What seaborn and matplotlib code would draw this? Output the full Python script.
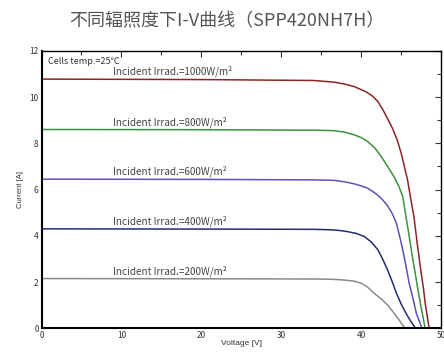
import matplotlib
matplotlib.use("Agg")
import matplotlib.pyplot as plt
from matplotlib.ticker import MultipleLocator
import seaborn as sns
import pandas as pd

# I-V curves (voltage V, current A)
irradiances = ["1000", "800", "600", "400", "200"]
line_colors = ["#8b2525", "#3f8f3f", "#5d52b5", "#232d70", "#8a8a8a"]

v_1000 = [0, 20, 34.0, 36.6, 38.0, 39.1, 40.5, 41.4, 42.1, 42.8, 43.4, 43.9,
          44.5, 45.0, 45.4, 45.8, 46.2, 46.6, 47.0, 47.5, 47.8, 48.0, 48.5]
i_1000 = [10.78, 10.76, 10.72, 10.65, 10.56, 10.46, 10.25, 10.05, 9.8, 9.4, 9.0,
          8.66, 8.15, 7.58, 7.0, 6.42, 5.6, 4.83, 3.7, 2.39, 1.7, 1.1, 0.0]

v_800 = [0, 20, 34.0, 36.6, 38.0, 39.1, 40.0, 40.8, 41.7, 42.5, 43.3, 44.1,
         44.7, 45.2, 45.6, 46.0, 46.4, 46.8, 47.1, 47.5, 48.0]
i_800 = [8.6, 8.59, 8.57, 8.55, 8.48, 8.37, 8.25, 8.08, 7.8, 7.43, 7.0, 6.56,
         6.15, 5.7, 4.83, 4.0, 3.1, 2.3, 1.66, 0.9, 0.0]

v_600 = [0, 20, 34.0, 36.6, 38.0, 39.1, 40.0, 40.8, 41.6, 42.2, 42.7, 43.3,
         43.9, 44.4, 44.8, 45.2, 45.6, 46.0, 46.5, 46.9, 47.6]
i_600 = [6.45, 6.44, 6.42, 6.4, 6.33, 6.25, 6.16, 6.06, 5.88, 5.72, 5.55, 5.3,
         4.95, 4.55, 4.0, 3.39, 2.7, 1.95, 1.25, 0.65, 0.0]

v_400 = [0, 20, 34.0, 36.2, 37.3, 38.3, 39.4, 40.4, 41.3, 42.1, 42.7, 43.3,
         43.9, 44.4, 45.0, 45.6, 46.2, 46.8]
i_400 = [4.3, 4.29, 4.28, 4.26, 4.23, 4.18, 4.1, 3.97, 3.72, 3.39, 2.98, 2.52,
         2.0, 1.52, 1.05, 0.65, 0.3, 0.0]

v_200 = [0, 20, 34.0, 36.2, 37.3, 38.3, 39.2, 40.0, 40.8, 41.6, 42.5, 43.3,
         44.0, 44.6, 45.1, 45.5]
i_200 = [2.15, 2.14, 2.13, 2.12, 2.1, 2.07, 2.03, 1.95, 1.78, 1.52, 1.27, 1.01,
         0.7, 0.43, 0.18, 0.0]

volts = [v_1000, v_800, v_600, v_400, v_200]
amps = [i_1000, i_800, i_600, i_400, i_200]

rows = []
for irr, vs, cs in zip(irradiances, volts, amps):
    for v, c in zip(vs, cs):
        rows.append({"irr": irr, "V": v, "I": c})
df = pd.DataFrame(rows)

sns.set_style("white")
plt.rcParams["font.family"] = ["Noto Sans CJK SC", "DejaVu Sans"]

fig = plt.figure(figsize=(4.44, 3.56), dpi=100)
ax = fig.add_axes([0.0935, 0.078, 0.9, 0.779])

sns.lineplot(data=df, x="V", y="I", hue="irr", hue_order=irradiances,
             palette=line_colors, sort=False, estimator=None, linewidth=1.1,
             legend=False, ax=ax)

ax.set_xlim(0, 50)
ax.set_ylim(0, 12)
ax.xaxis.set_major_locator(MultipleLocator(10))
ax.xaxis.set_minor_locator(MultipleLocator(5))
ax.yaxis.set_major_locator(MultipleLocator(2))
ax.yaxis.set_minor_locator(MultipleLocator(1))
ax.tick_params(which="both", direction="in", top=True, right=True,
               labelsize=6, colors="#333333", pad=2)
ax.tick_params(which="major", length=4, width=0.8)
ax.tick_params(which="minor", length=3, width=0.8)
for side in ["left", "bottom"]:
    ax.spines[side].set_linewidth(1.5)
for side in ["top", "right"]:
    ax.spines[side].set_linewidth(1.0)
for sp in ax.spines.values():
    sp.set_color("black")

ax.set_xlabel("Voltage [V]", fontsize=6, color="#333333", labelpad=0,
              family=["Liberation Sans", "DejaVu Sans"])
ax.set_ylabel("Current [A]", fontsize=5.5, color="#333333", labelpad=4,
              family=["Liberation Sans", "DejaVu Sans"])

ax.text(0.8, 11.55, "Cells temp.=25℃", fontsize=6.5, color="#333333",
        va="center", ha="left")
for irr, cs in zip(irradiances, amps):
    ax.text(9.0, cs[0] + 0.08, f"Incident Irrad.={irr}W/m²", fontsize=7.2,
            color="#444444", va="bottom", ha="left")

fig.text(0.512, 0.94, "不同辐照度下I-V曲线（SPP420NH7H）", fontsize=13,
         color="#555555", ha="center", va="center")

fig.savefig("out.png", dpi=100)
